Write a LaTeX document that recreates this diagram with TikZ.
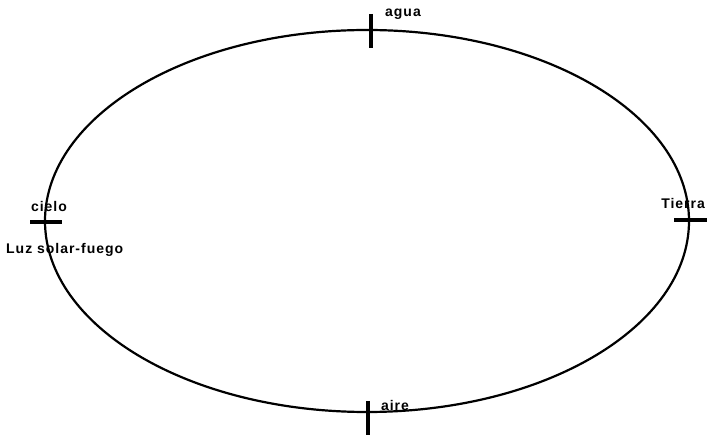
\documentclass[tikz,border=0pt]{standalone}
\usepackage{fontspec}
\setmainfont[LetterSpace=7]{Liberation Sans}
\begin{document}
\begin{tikzpicture}[x=1pt,y=-1pt,
  lbl/.style={inner sep=0pt, font=\fontsize{14}{16}\selectfont\bfseries},
  tick/.style={line width=4pt},
  ring/.style={line width=2.2pt}]
\useasboundingbox (0,0) rectangle (707,435);
\coordinate (c) at (367,221);
\draw[ring] (c) ellipse [x radius=322, y radius=191];
% ticks
\coordinate (t1) at (371,14); \coordinate (t2) at (371,48);
\draw[tick] (t1) -- (t2);
\coordinate (b1) at (368,401); \coordinate (b2) at (368,435);
\draw[tick] (b1) -- (b2);
\coordinate (l1) at (30,222); \coordinate (l2) at (62,222);
\draw[tick] (l1) -- (l2);
\coordinate (r1) at (674,220); \coordinate (r2) at (708,220);
\draw[tick] (r1) -- (r2);
% labels
\node[lbl] (agua) at (403,14) {agua};
\node[lbl] (aire) at (395,405) {aire};
\node[lbl] (cielo) at (49,206) {cielo};
\node[lbl, anchor=west] (luz) at (6,250) {Luz solar-fuego};
\node[lbl, anchor=east] (tierra) at (705,203) {Tierra};
\end{tikzpicture}
\end{document}
